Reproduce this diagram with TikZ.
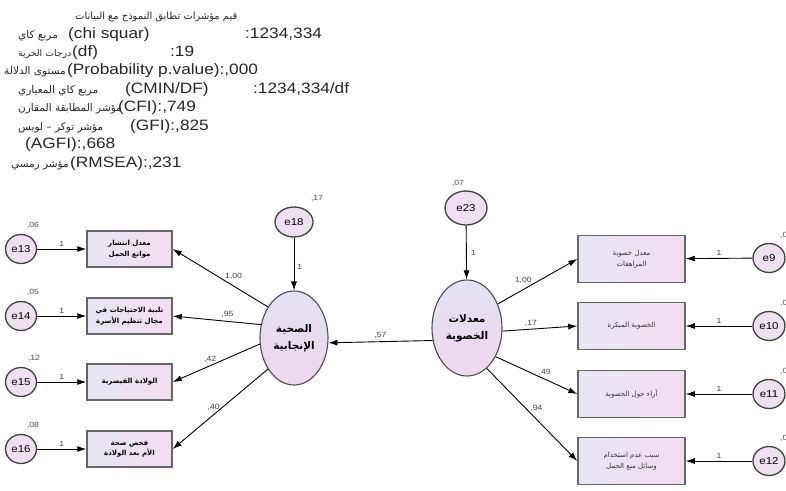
\documentclass[tikz,border=0pt]{standalone}
\usepackage{fontspec}
\setmainfont{Liberation Sans}[FakeStretch=1.15]
\newfontfamily\arabicfont[Script=Arabic]{DejaVu Sans}
\TeXXeTstate=1
\usetikzlibrary{shapes.geometric, arrows.meta, positioning, calc}
\definecolor{boxleft}{HTML}{E6E5F3}
\definecolor{boxright}{HTML}{F3DDF0}
\definecolor{errfill}{HTML}{EEDFF1}
\definecolor{lattop}{HTML}{E2E1F3}
\definecolor{latbot}{HTML}{F0D6EE}
\newcommand{\artxt}[1]{{\arabicfont\beginR #1\endR}}

\begin{document}
\begin{tikzpicture}[
    x=1pt, y=-1pt,
    hdr/.style={anchor=base west, inner sep=0pt, text=black!85, font=\fontsize{15}{18}\selectfont},
    harab/.style={anchor=base west, inner sep=0pt, text=black!85, font=\fontsize{10.5}{18}\selectfont},
    errnode/.style={ellipse, draw=black!75, line width=1.3pt, fill=errfill, minimum width=31pt, minimum height=29pt, inner sep=0pt, font=\fontsize{10}{10}\selectfont},
    latent/.style={ellipse, draw=black!70, line width=1.1pt, top color=lattop, bottom color=latbot, minimum width=68pt, minimum height=94pt, inner sep=0pt, align=center, font=\bfseries\fontsize{10.5}{17}\selectfont},
    leftbox/.style={rectangle, draw=black!60, line width=1.5pt, left color=boxleft, right color=boxright, minimum width=85pt, minimum height=36pt, inner sep=1pt, align=center, font=\bfseries\fontsize{7}{10.5}\selectfont},
    rightbox/.style={rectangle, draw=black!60, line width=1.5pt, left color=boxleft, right color=boxright, minimum width=107pt, minimum height=47pt, inner sep=1pt, align=center, text=black!80, font=\fontsize{7}{11}\selectfont},
    varlbl/.style={inner sep=0pt, text=black!70, font=\fontsize{7.5}{8}\selectfont},
    lbl/.style={inner sep=1pt, text=black!75, font=\fontsize{7.5}{8}\selectfont},
    arrow/.style={line width=0.9pt, -{Latex[length=9pt,width=6pt]}}
]
\useasboundingbox (0,0) rectangle (786,490);

% fit indices
\node[harab, font=\fontsize{9.9}{18}\selectfont] (hd0) at (75,19) {\artxt{قيم مؤشرات تطابق النموذج مع البيانات}};
\node[harab] (hd1a) at (18,38.5) {\artxt{مربع كاي}};
\node[hdr] (hd1b) at (68,38.5) {(chi squar)};
\node[hdr] (hd1c) at (245,38.5) {:1234,334};
\node[harab, font=\fontsize{9.3}{18}\selectfont] (hd2a) at (18,56.5) {\artxt{درجات الحرية}};
\node[hdr] (hd2b) at (72,56.5) {(df)};
\node[hdr] (hd2c) at (170,56.5) {:19};
\node[hdr] (hd3b) at (67,74.5) {(Probability p.value):,000};
\node[harab, anchor=base east] (hd3a) at ($(hd3b.base west)+(-1,0)$) {\artxt{مستوى الدلالة}};
\node[harab] (hd4a) at (18,93) {\artxt{مربع كاي المعياري}};
\node[hdr] (hd4b) at (125,93) {(CMIN/DF)};
\node[hdr] (hd4c) at (253,93) {:1234,334/df};
\node[harab] (hd5a) at (18,111.5) {\artxt{مؤشر المطابقة المقارن}};
\node[hdr] (hd5b) at (118,111.5) {(CFI):,749};
\node[harab] (hd6a) at (18,130) {\artxt{مؤشر توكر – لويس}};
\node[hdr] (hd6b) at (130,130) {(GFI):,825};
\node[hdr] (hd7b) at (25,148.5) {(AGFI):,668};
\node[hdr] (hd8b) at (70,167) {(RMSEA):,231};
\node[harab, anchor=base east] (hd8a) at ($(hd8b.base west)+(-1,0)$) {\artxt{مؤشر رمسي}};

% latent variables
\node[latent] (health) at (294,338) {\artxt{الصحية}\\\artxt{الإنجابية}};
\node[latent, minimum width=70pt, minimum height=96pt] (fert) at (467,328) {\artxt{معدلات}\\\artxt{الخصوبة}};
\node[errnode, minimum width=38pt, minimum height=30pt] (e18) at (294,222) {e18};
\node[errnode, minimum width=42pt, minimum height=34pt] (e23) at (466,208) {e23};

% left indicators
\node[leftbox] (lb1) at (129.5,249) {\artxt{معدل انتشار}\\\artxt{موانع الحمل}};
\node[leftbox] (lb2) at (129.5,316) {\artxt{تلبية الاحتياجات في}\\\artxt{مجال تنظيم الأسرة}};
\node[leftbox] (lb3) at (129.5,382) {\artxt{الولادة القيصرية}};
\node[leftbox] (lb4) at (129.5,449) {\artxt{فحص صحة}\\\artxt{الأم بعد الولادة}};
\node[errnode] (e13) at (21,249) {e13};
\node[errnode] (e14) at (21,316) {e14};
\node[errnode] (e15) at (21,382) {e15};
\node[errnode] (e16) at (21,449) {e16};

% right indicators
\node[rightbox] (rb1) at (631.5,259) {\artxt{معدل خصوبة}\\\artxt{المراهقات}};
\node[rightbox] (rb2) at (631.5,326) {\artxt{الخصوبة المبكرة}};
\node[rightbox] (rb3) at (631.5,394) {\artxt{آراء حول الخصوبة}};
\node[rightbox] (rb4) at (631.5,461) {\artxt{سبب عدم استخدام}\\\artxt{وسائل منع الحمل}};
\node[errnode, minimum width=32pt] (e9) at (769,258) {e9};
\node[errnode, minimum width=32pt] (e10) at (769,326) {e10};
\node[errnode, minimum width=32pt] (e11) at (769,394) {e11};
\node[errnode, minimum width=32pt] (e12) at (769,461) {e12};

% variances
\node[varlbl] at ($(e13)+(12,-24)$) {,06};
\node[varlbl] at ($(e14)+(12,-24)$) {,05};
\node[varlbl] at ($(e15)+(13,-24)$) {,12};
\node[varlbl] at ($(e16)+(12,-24)$) {,08};
\node[varlbl] at ($(e18)+(23,-24)$) {,17};
\node[varlbl] at ($(e23)+(-8,-25)$) {,07};
\node[varlbl, anchor=west] at ($(e9)+(11,-23)$) {,0};
\node[varlbl, anchor=west] at ($(e10)+(11,-23)$) {,0};
\node[varlbl, anchor=west] at ($(e11)+(11,-23)$) {,0};
\node[varlbl, anchor=west] at ($(e12)+(11,-23)$) {,0};

% error paths
\draw [arrow] (e13) -- node[lbl, above=1pt] {1} (lb1);
\draw [arrow] (e14) -- node[lbl, above=1pt] {1} (lb2);
\draw [arrow] (e15) -- node[lbl, above=1pt] {1} (lb3);
\draw [arrow] (e16) -- node[lbl, above=1pt] {1} (lb4);
\draw [arrow] (e9) -- node[lbl, above=1pt] {1} (rb1);
\draw [arrow] (e10) -- node[lbl, above=1pt] {1} (rb2);
\draw [arrow] (e11) -- node[lbl, above=1pt] {1} (rb3);
\draw [arrow] (e12) -- node[lbl, above=1pt] {1} (rb4);
\draw [arrow] (e18) -- node[lbl, right=2pt, pos=0.55] {1} (health);
\draw [arrow] (e23) -- node[lbl, right=3pt, pos=0.5] {1} (fert);

% loadings
\draw [arrow] (health.130) -- node[lbl, pos=0.36, above=5pt] {1,00} (lb1.east);
\draw [arrow] (health.158) -- node[lbl, pos=0.38, above=2pt] {,95} (lb2.east);
\draw [arrow] (health.190) -- node[lbl, pos=0.57, above=2pt] {,42} (lb3.east);
\draw [arrow] (health.230) -- node[lbl, pos=0.57, above=3pt] {,40} (lb4.east);
\draw [arrow] (fert.38) -- node[lbl, pos=0.32, above=5pt] {1,00} (rb1.west);
\draw [arrow] (fert.-5) -- node[lbl, pos=0.38, above=1pt] {,17} (rb2.west);
\draw [arrow] (fert.-45) -- node[lbl, pos=0.6, above=2pt] {,49} (rb3.west);
\draw [arrow] (fert.-64) -- node[lbl, pos=0.55, above=6pt] {,94} (rb4.west);

% structural path
\draw [arrow] (fert.200) -- node[lbl, above=2pt] {,57} (health.-8);

\end{tikzpicture}
\end{document}
